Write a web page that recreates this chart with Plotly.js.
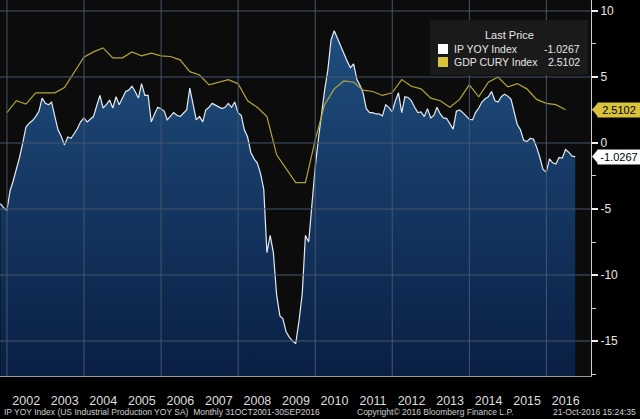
<!DOCTYPE html>
<html>
<head>
<meta charset="utf-8">
<script src="https://cdn.plot.ly/plotly-3.0.1.min.js"></script>
<style>
  html, body { margin: 0; padding: 0; background: #000; }
  #chart { width: 640px; height: 419px; }
</style>
</head>
<body>
<div id="chart"></div>
<script>
// IP YOY Index, monthly, Oct 2001 .. Sep 2016
const ipYoy = [
  -4.6, -4.9, -5.1, -3.6, -2.9, -2.0, -1.1, 0.0, 1.2, 1.5, 1.7, 2.0,
  2.4, 3.4, 3.0, 2.9, 3.1, 2.0, 1.0, 0.5, -0.15, 0.45, 0.35, 0.7,
  1.1, 1.6, 1.9, 1.6, 1.8, 2.0, 2.8, 3.6, 2.65, 2.9, 3.25, 2.65,
  3.5, 2.9, 3.4, 3.9, 4.0, 4.3, 3.9, 3.4, 4.5, 3.6, 3.6, 1.6,
  2.2, 2.7, 2.6, 2.4, 1.75, 2.0, 2.3, 2.1, 2.0, 2.25, 2.5, 4.15,
  2.8, 1.75, 2.0, 1.6, 2.5, 2.7, 3.0, 2.85, 2.7, 2.6, 2.7, 3.0,
  2.7, 3.1, 2.3, 2.1, 1.0, 0.45, -0.7, -1.2, -1.5, -2.3, -3.5, -8.3,
  -7.0, -8.3, -11.5, -13.1, -13.3, -14.3, -14.7, -15.0, -15.2, -13.5, -11.4, -7.0,
  -7.5, -4.5, -1.9, 0.3, 2.3, 4.0, 5.5, 7.8, 8.5, 7.9, 7.3, 6.8,
  6.2, 5.7, 6.0, 4.8, 4.4, 3.8, 2.6, 2.3, 2.3, 2.2, 2.2, 2.05,
  2.9, 2.7, 2.35, 3.2, 3.8, 2.3, 3.5, 3.45, 3.2, 2.7, 2.3, 2.35,
  2.0, 2.6, 1.9, 2.1, 2.7, 2.2, 1.9, 1.85, 1.4, 1.05, 2.4, 2.5,
  2.3, 2.05, 1.8, 1.75, 2.3, 2.65, 3.1, 3.35, 3.5, 3.9, 3.2, 3.1,
  3.5, 3.7, 3.55, 3.3, 2.3, 1.4, 1.0, 0.2, 0.1, 0.35, 0.3, -0.3,
  -1.1, -2.0, -2.2, -1.2, -1.5, -1.6, -1.1, -1.15, -0.5, -0.7, -1.0, -1.0267
]

// GDP CURY Index, quarterly, Q4 2001 .. Q2 2016
const gdpCury = [
  2.3,
  3.2, 2.95, 3.8, 3.8,
  3.8, 4.2, 5.4, 6.5,
  6.9, 7.2, 6.45, 6.45,
  6.9, 6.6, 6.8, 6.6,
  6.55, 6.3, 5.4, 5.15,
  4.4, 4.6, 4.8, 4.5,
  3.2, 2.7, 2.0, -0.9,
  -1.9, -3.0, -3.0, 0.2,
  2.9, 4.1, 4.7, 4.6,
  4.0, 3.9, 3.6, 3.8,
  4.8, 4.3, 4.1, 3.4,
  3.2, 2.7, 3.3, 4.4,
  3.5, 4.6, 5.0, 4.25,
  4.5, 4.1, 3.3, 3.0,
  2.9, 2.5102
]

const yTickVals = [10, 5, 0, -5, -10, -15]
const yTickText = ['10', '5', '0', '-5', '-10', '-15']
const yMinorVals = [7.5, 2.5, -2.5, -7.5, -12.5, -17.5]
const gridYears = [2002, 2004, 2006, 2008, 2010, 2012, 2014, 2016]

const IP_NAME = 'IP YOY Index'
const GDP_NAME = 'GDP CURY Index'
const FONT = 'Liberation Sans, Arial, sans-serif'
const Y_MIN = -17.65
const Y_MAX = 10.83
const PLOT_W = 591
const PLOT_H = 376

function monthEnd(y, m) {
  return new Date(Date.UTC(y, m + 1, 0)).toISOString().slice(0, 10)
}

// pixel -> paper helpers (plot area is 591 x 376 from the top-left corner)
const px = x => x / PLOT_W
const py = y => 1 - y / PLOT_H
const pv = v => (v - Y_MIN) / (Y_MAX - Y_MIN)

const ipDates = ipYoy.map((_, i) => monthEnd(2001, 9 + i))
const gdpDates = gdpCury.map((_, i) => monthEnd(2001, 11 + 3 * i))

const ipLast = ipYoy[ipYoy.length - 1]
const gdpLast = gdpCury[gdpCury.length - 1]

const baseline = {
  x: [ipDates[0], ipDates[ipDates.length - 1]],
  y: [Y_MIN - 1, Y_MIN - 1],
  type: 'scatter',
  mode: 'lines',
  line: { width: 0 },
  hoverinfo: 'skip',
  showlegend: false
}

const ipTrace = {
  x: ipDates,
  y: ipYoy,
  type: 'scatter',
  mode: 'lines',
  name: IP_NAME,
  fill: 'tonexty',
  fillgradient: {
    type: 'vertical',
    colorscale: [[0, '#091d42'], [1, '#1f4e7e']]
  },
  line: { color: '#e4eaf2', width: 1.2 },
  showlegend: false
}

const gdpTrace = {
  x: gdpDates,
  y: gdpCury,
  type: 'scatter',
  mode: 'lines',
  name: GDP_NAME,
  line: { color: '#b3a53c', width: 1.2 },
  showlegend: false
}

// grid drawn above the area fill, as on the terminal
const gridLine = { color: '#46566c', width: 1 }
const shapes = []
gridYears.forEach(yr => {
  shapes.push({
    type: 'line', layer: 'above', xref: 'x', yref: 'paper',
    x0: `${yr}-01-01`, x1: `${yr}-01-01`, y0: 0, y1: 1, line: gridLine
  })
})
yTickVals.forEach(v => {
  shapes.push({
    type: 'line', layer: 'above', xref: 'paper', yref: 'y',
    x0: 0, x1: 1, y0: v, y1: v, line: gridLine
  })
})
// legend box
shapes.push({
  type: 'rect', layer: 'above', xref: 'paper', yref: 'paper',
  x0: px(430), x1: px(588), y0: py(75), y1: py(20),
  fillcolor: '#1a1a1a', line: { width: 0 }
})
shapes.push({
  type: 'rect', layer: 'above', xref: 'paper', yref: 'paper',
  x0: px(438), x1: px(448), y0: py(54), y1: py(44),
  fillcolor: '#ffffff', line: { width: 0 }
})
shapes.push({
  type: 'rect', layer: 'above', xref: 'paper', yref: 'paper',
  x0: px(438), x1: px(448), y0: py(67), y1: py(57),
  fillcolor: '#d9c23c', line: { width: 0 }
})
// little arrow heads of the last-value tags
function tagArrow(v, color) {
  const yc = pv(v)
  const h = 7 / PLOT_H
  return {
    type: 'path', layer: 'above', xref: 'paper', yref: 'paper',
    path: `M ${px(592)} ${yc} L ${px(598)} ${yc + h} L ${px(598)} ${yc - h} Z`,
    fillcolor: color, line: { width: 0 }
  }
}
shapes.push(tagArrow(gdpLast, '#d9c23c'))
shapes.push(tagArrow(ipLast, '#ffffff'))

const legendFont = { family: FONT, size: 10.5, color: '#e6e6e6' }
const annotations = [
  { text: 'Last Price', x: px(509), y: py(35), xanchor: 'center', font: Object.assign({}, legendFont, { size: 11 }) },
  { text: IP_NAME, x: px(452), y: py(49), xanchor: 'left' },
  { text: ipLast.toFixed(4), x: px(582), y: py(49), xanchor: 'right' },
  { text: GDP_NAME, x: px(452), y: py(62), xanchor: 'left' },
  { text: gdpLast.toFixed(4), x: px(582), y: py(62), xanchor: 'right' }
].map(a => Object.assign({
  xref: 'paper', yref: 'paper', yanchor: 'middle', showarrow: false, font: legendFont
}, a))

function valueTag(v, color) {
  return {
    xref: 'paper', yref: 'paper', x: px(597), y: pv(v),
    xanchor: 'left', yanchor: 'middle', showarrow: false,
    text: v.toFixed(4), bgcolor: color, borderpad: 1, width: 40,
    font: { family: FONT, size: 11, color: '#000' }
  }
}
annotations.push(valueTag(gdpLast, '#d9c23c'))
annotations.push(valueTag(ipLast, '#ffffff'))

const footFont = { family: FONT, size: 8.5, color: '#cfcfcf' }
annotations.push({
  xref: 'paper', yref: 'paper', x: px(2), y: py(412), xanchor: 'left', yanchor: 'middle',
  showarrow: false, font: footFont,
  text: 'IP YOY Index (US Industrial Production YOY SA)  Monthly 31OCT2001-30SEP2016'
})
annotations.push({
  xref: 'paper', yref: 'paper', x: px(355), y: py(412), xanchor: 'left', yanchor: 'middle',
  showarrow: false, font: footFont, text: 'Copyright© 2016 Bloomberg Finance L.P.'
})
annotations.push({
  xref: 'paper', yref: 'paper', x: px(638), y: py(412), xanchor: 'right', yanchor: 'middle',
  showarrow: false, font: footFont, text: '21-Oct-2016 15:24:35'
})

const layout = {
  width: 640,
  height: 419,
  margin: { l: 0, r: 49, t: 0, b: 43 },
  paper_bgcolor: '#000000',
  plot_bgcolor: '#0c0c0c',
  font: { family: FONT, color: '#dddddd' },
  showlegend: false,
  xaxis: {
    type: 'date',
    range: ['2001-10-27', '2017-02-27'],
    showgrid: false,
    zeroline: false,
    showline: true,
    linecolor: '#9a9a9a',
    linewidth: 1,
    ticks: '',
    tick0: '2002-01-01',
    dtick: 'M12',
    ticklabelmode: 'period',
    tickformat: '%Y',
    ticklabelstandoff: 13,
    tickfont: { family: FONT, size: 12.5, color: '#dddddd' },
    minor: {
      ticks: 'outside', tick0: '2002-01-01', dtick: 'M12',
      ticklen: 24, tickwidth: 1, tickcolor: '#9a9a9a', showgrid: false
    }
  },
  yaxis: {
    side: 'right',
    range: [Y_MIN, Y_MAX],
    showgrid: false,
    zeroline: false,
    showline: true,
    linecolor: '#cfcfcf',
    ticks: 'outside',
    ticklen: 6,
    tickwidth: 2,
    tickcolor: '#eeeeee',
    tickmode: 'array',
    tickvals: yTickVals,
    ticktext: yTickText,
    tickfont: { family: FONT, size: 12, color: '#e6e6e6' },
    minor: {
      ticks: 'outside', tickmode: 'array', tickvals: yMinorVals,
      ticklen: 4, tickwidth: 1, tickcolor: '#cfcfcf', showgrid: false
    }
  },
  shapes: shapes,
  annotations: annotations
}

Plotly.newPlot('chart', [baseline, ipTrace, gdpTrace], layout, { displayModeBar: false, responsive: false })
</script>
</body>
</html>
